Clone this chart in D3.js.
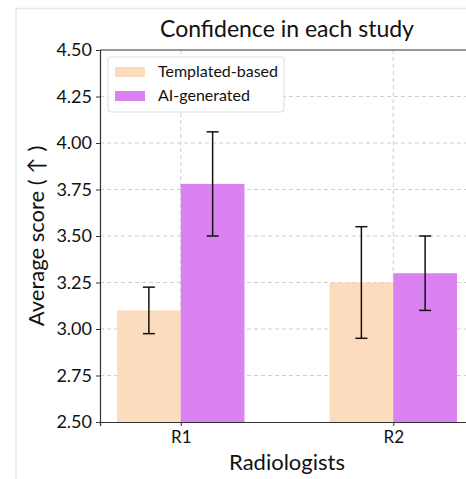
<!DOCTYPE html>
<html>
<head>
<meta charset="utf-8">
<script src="https://cdn.jsdelivr.net/npm/d3@7"></script>
<style>
  body { margin: 0; background: #fff; }
  svg text { font-family: "Lato", "DejaVu Sans", sans-serif; fill: #111; }
</style>
</head>
<body>
<div id="chart"></div>
<script>
// data
var categories = ["R1", "R2"];
var seriesNames = ["Templated-based", "AI-generated"];
var templateMeans = [3.10, 3.25];
var templateErr = [0.125, 0.30];
var aiMeans = [3.78, 3.30];
var aiErr = [0.28, 0.20];
var yTicks = [2.50, 2.75, 3.00, 3.25, 3.50, 3.75, 4.00, 4.25, 4.50];
var colors = ["#fddcbe", "#da82f2"];

var W = 466, H = 479;
var margin = { top: 50, right: -8, bottom: 57, left: 100 };
var width = W - margin.left - margin.right,
  height = H - margin.top - margin.bottom;

var svg = d3.select("#chart").append("svg")
  .attr("width", W).attr("height", H);

// faint frame of the screenshot
svg.append("path").attr("d", "M16," + H + "V8.5H" + W)
  .attr("fill", "none").attr("stroke", "#e8e8e8").attr("stroke-width", 1.5);

var g = svg.append("g")
  .attr("transform", "translate(" + margin.left + "," + margin.top + ")");

// category index -> pixel
var x = d3.scaleLinear().domain([-0.38, 1.38]).range([0, width]);
var y = d3.scaleLinear().domain([2.5, 4.5]).range([height, 0]);
var barW = 0.3;

// grid
g.append("g").selectAll("line").data(yTicks.slice(1, -1)).enter().append("line")
  .attr("x1", 0).attr("x2", width)
  .attr("y1", function (d) { return y(d); }).attr("y2", function (d) { return y(d); })
  .attr("stroke", "#c8c8c8").attr("stroke-dasharray", "4,3").attr("stroke-width", 0.9);
g.append("g").selectAll("line").data(categories).enter().append("line")
  .attr("x1", function (d, i) { return x(i); }).attr("x2", function (d, i) { return x(i); })
  .attr("y1", 0).attr("y2", height)
  .attr("stroke", "#c8c8c8").attr("stroke-dasharray", "4,3").attr("stroke-width", 0.9);

var series = [
  { means: templateMeans, err: templateErr, off: -barW / 2, color: colors[0] },
  { means: aiMeans, err: aiErr, off: barW / 2, color: colors[1] }
];

series.forEach(function (s) {
  g.selectAll(null).data(s.means).enter().append("rect")
    .attr("x", function (d, i) { return x(i + s.off - barW / 2); })
    .attr("width", x(barW) - x(0))
    .attr("y", function (d) { return y(d); })
    .attr("height", function (d) { return height - y(d); })
    .attr("fill", s.color);
});

series.forEach(function (s) {
  s.means.forEach(function (m, i) {
    var cx = x(i + s.off), lo = y(m - s.err[i]), hi = y(m + s.err[i]);
    var eb = g.append("g").attr("stroke", "#111").attr("stroke-width", 1.5);
    eb.append("line").attr("x1", cx).attr("x2", cx).attr("y1", lo).attr("y2", hi);
    eb.append("line").attr("x1", cx - 6).attr("x2", cx + 6).attr("y1", lo).attr("y2", lo);
    eb.append("line").attr("x1", cx - 6).attr("x2", cx + 6).attr("y1", hi).attr("y2", hi);
  });
});

// axes
var yAxis = g.append("g")
  .call(d3.axisLeft(y).tickValues(yTicks).tickFormat(d3.format(".2f")).tickSize(4).tickPadding(4));
var xAxis = g.append("g").attr("transform", "translate(0," + height + ")")
  .call(d3.axisBottom(x).tickValues([0, 1]).tickFormat(function (d) { return categories[d]; })
    .tickSize(4).tickPadding(5));
[yAxis, xAxis].forEach(function (a) {
  a.select(".domain").attr("stroke", "#333").attr("stroke-width", 1.2);
  a.selectAll(".tick line").attr("stroke", "#333");
  a.selectAll("text").style("font-size", "18px").attr("fill", "#111");
});
xAxis.selectAll("text").style("font-size", "17px");
g.append("line").attr("x1", 0).attr("x2", width).attr("y1", 0).attr("y2", 0)
  .attr("stroke", "#333").attr("stroke-width", 1.2);

// titles
svg.append("text").attr("x", margin.left + width / 2).attr("y", 37)
  .attr("text-anchor", "middle").style("font-size", "23px").text("Confidence in each study");
svg.append("text").attr("x", margin.left + width / 2).attr("y", 470)
  .attr("text-anchor", "middle").style("font-size", "22px").text("Radiologists");
svg.append("text").attr("transform", "translate(44," + (margin.top + height / 2) + ") rotate(-90)")
  .attr("text-anchor", "middle").style("font-size", "22px").text("Average score ( \u2191 )");

// legend
var lg = g.append("g").attr("transform", "translate(8,7)");
lg.append("rect").attr("width", 176).attr("height", 55).attr("rx", 3)
  .attr("fill", "#fff").attr("fill-opacity", 0.85).attr("stroke", "#dddddd");
seriesNames.forEach(function (n, i) {
  lg.append("rect").attr("x", 7).attr("y", 10 + i * 24).attr("width", 30).attr("height", 10)
    .attr("fill", colors[i]);
  lg.append("text").attr("x", 50).attr("y", 20 + i * 24).style("font-size", "16px").text(n);
});
</script>
</body>
</html>
